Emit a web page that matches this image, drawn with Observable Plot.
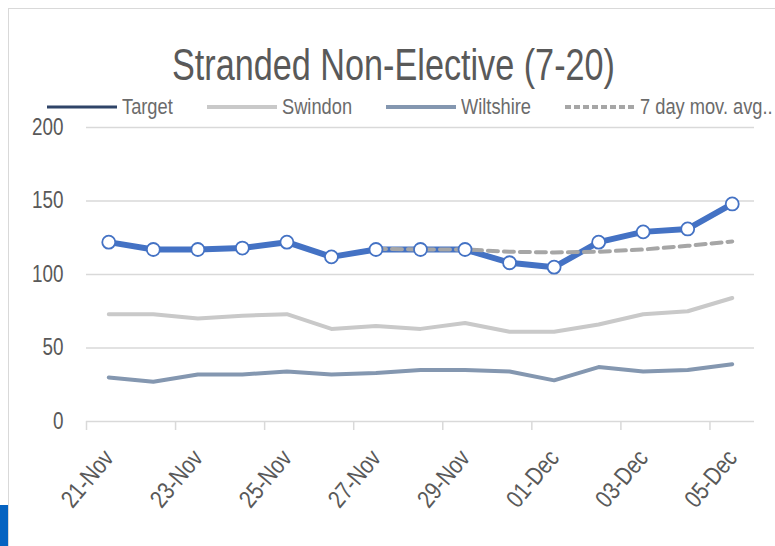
<!DOCTYPE html>
<html>
<head>
<meta charset="utf-8">
<script src="https://cdn.jsdelivr.net/npm/d3@7"></script>
<script src="https://cdn.jsdelivr.net/npm/@observablehq/plot@0.6"></script>
<style>
  html, body { margin: 0; padding: 0; background: #fff; }
  #wrap { position: relative; width: 775px; height: 546px; overflow: hidden; background: #fff;
          font-family: "Liberation Sans", Arial, sans-serif; }
  #frame { position: absolute; left: 8px; top: 8px; right: -2px; bottom: -2px;
           border-left: 1.5px solid #d9d9d9; border-top: 1.5px solid #d9d9d9; }
  #sel { position: absolute; left: 0; top: 505px; width: 8px; height: 41px; background: #0563c1; }
  #title { position: absolute; left: 0; width: 787px; top: 42px; text-align: center;
           font-size: 45px; line-height: 45px; color: #595959; white-space: nowrap;
           transform: scaleX(0.76); transform-origin: 393.5px 0; }
  #legend { position: absolute; left: 0; top: 95px; width: 775px; height: 24px;
            font-size: 22px; color: #6b6b6b; white-space: nowrap; }
  .sw { position: absolute; top: 7px; }
  .lt { position: absolute; top: 0; line-height: 24px; transform: scaleX(0.83); transform-origin: 0 0; }
  #chart { position: absolute; left: 0; top: 0; }
</style>
</head>
<body>
<div id="wrap">
  <div id="frame"></div>
  <div id="sel"></div>
  <div id="title"></div>
  <div id="legend"></div>
  <div id="chart"></div>
</div>
<script>
const titleText = "Stranded Non-Elective (7-20)";
const dates = ["21-Nov","22-Nov","23-Nov","24-Nov","25-Nov","26-Nov","27-Nov","28-Nov","29-Nov","30-Nov","01-Dec","02-Dec","03-Dec","04-Dec","05-Dec"];
const total = [122, 117, 117, 118, 122, 112, 117, 117, 117, 108, 105, 122, 129, 131, 148];
const swindon = [73, 73, 70, 72, 73, 63, 65, 63, 67, 61, 61, 66, 73, 75, 84];
const wiltshire = [30, 27, 32, 32, 34, 32, 33, 35, 35, 34, 28, 37, 34, 35, 39];
const movAvg = [null, null, null, null, null, null, 117.5, 117, 117, 115.5, 115, 115.5, 117, 119.5, 122.5];
const yTicks = [0, 50, 100, 150, 200];
const xLabelEvery = 2;

const legendNames = ["Target", "Swindon", "Wiltshire", "7 day mov. avg.."];
const legendColors = ["#2f4468", "#c9c9c9", "#8497b0", "#a6a6a6"];
const legendWidths = [3, 4, 4, 4];
const legendDash = [null, null, null, "6,3"];

document.getElementById("title").textContent = titleText;

// legend laid out left to right, measuring each (condensed) label
const legend = document.getElementById("legend");
const ns = "http://www.w3.org/2000/svg";
let cursor = 47;
legendNames.forEach((name, k) => {
  const s = document.createElementNS(ns, "svg");
  s.setAttribute("class", "sw");
  s.setAttribute("width", 70); s.setAttribute("height", 10);
  s.style.left = cursor + "px";
  const l = document.createElementNS(ns, "line");
  l.setAttribute("x1", 0); l.setAttribute("x2", 70); l.setAttribute("y1", 5); l.setAttribute("y2", 5);
  l.setAttribute("stroke", legendColors[k]); l.setAttribute("stroke-width", legendWidths[k]);
  if (legendDash[k]) l.setAttribute("stroke-dasharray", legendDash[k]);
  s.appendChild(l);
  legend.appendChild(s);
  cursor += 75;
  const t = document.createElement("span");
  t.className = "lt";
  t.textContent = name;
  t.style.left = cursor + "px";
  legend.appendChild(t);
  cursor += t.getBoundingClientRect().width + 34;
});

const idx = dates.map((d, i) => i);
const rows = idx.map(i => ({i, date: dates[i], total: total[i], swindon: swindon[i], wiltshire: wiltshire[i], avg: movAvg[i]}));
const boundaryTicks = idx.filter(i => i % xLabelEvery === 0).map(i => i - 0.5);
const labelIdx = idx.filter(i => i % xLabelEvery === 0);

const plot = Plot.plot({
  width: 775,
  height: 546,
  marginLeft: 86,
  marginRight: 21,
  marginTop: 127,
  marginBottom: 125,
  style: {background: "transparent", fontFamily: '"Liberation Sans", Arial, sans-serif', overflow: "visible"},
  x: {type: "linear", domain: [-0.5, dates.length - 0.5], axis: null, label: null},
  y: {domain: [0, 200], axis: null, label: null},
  marks: [
    Plot.ruleY(yTicks.filter(v => v > 0), {stroke: "#d9d9d9", strokeWidth: 1.5}),
    Plot.ruleY([0], {stroke: "#d9d9d9", strokeWidth: 1.5}),
    Plot.axisX({ticks: boundaryTicks, tickSize: 9, tickFormat: () => "", label: null, stroke: "#d9d9d9", strokeWidth: 1.5}),
    Plot.text(yTicks, {y: d => d, frameAnchor: "left", dx: -23, textAnchor: "end", text: d => String(d),
      fontSize: 23, fill: "#595959"}),
    Plot.text(labelIdx, {x: i => i, y: 0, text: i => dates[i], rotate: -50, textAnchor: "end",
      dx: 0, dy: 32, fontSize: 25, fill: "#595959"}),
    Plot.line(rows, {x: "i", y: "wiltshire", stroke: "#8497b0", strokeWidth: 4}),
    Plot.line(rows, {x: "i", y: "swindon", stroke: "#c9c9c9", strokeWidth: 4}),
    Plot.line(rows, {x: "i", y: "total", stroke: "#4472c4", strokeWidth: 6}),
    Plot.line(rows.filter(r => r.avg != null), {x: "i", y: "avg", stroke: "#a6a6a6", strokeWidth: 4, strokeDasharray: "10,6"}),
    Plot.dot(rows, {x: "i", y: "total", r: 6.5, fill: "white", stroke: "#4472c4", strokeWidth: 1.8})
  ]
});

// condense the chart's texts horizontally (narrow typeface look), keeping each anchor in place
plot.querySelectorAll("text").forEach(t => {
  const tr = t.getAttribute("transform");
  if (tr) {
    t.setAttribute("transform", tr + " scale(0.82,1)");
  } else {
    const x = t.getAttribute("x") || 0, y = t.getAttribute("y") || 0;
    t.setAttribute("x", 0); t.setAttribute("y", 0);
    t.setAttribute("transform", `translate(${x},${y}) scale(0.82,1)`);
  }
});
document.getElementById("chart").appendChild(plot);
</script>
</body>
</html>
